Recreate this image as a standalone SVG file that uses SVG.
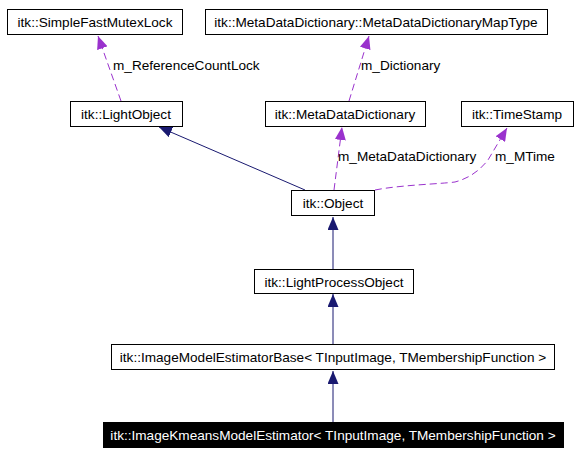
<svg xmlns="http://www.w3.org/2000/svg" width="584" height="455" viewBox="0 0 584 455">
<defs>
<style>
.box{fill:#fff;stroke:#000;stroke-width:1}
.dark{fill:#000;stroke:#000;stroke-width:1}
text{font-family:"Liberation Sans",Arial,sans-serif;font-size:13.6px;fill:#000}
.lbl{text-anchor:middle}
.wt{fill:#fff}
.inh{stroke:#191970;stroke-width:1;fill:none}
.use{stroke:#9a32cd;stroke-width:1;fill:none;stroke-dasharray:7,4}
</style>
<marker id="ai" markerWidth="13" markerHeight="11" refX="13" refY="5.5" orient="auto" markerUnits="userSpaceOnUse">
<path d="M0,0 L13,5.5 L0,11 Z" fill="#191970"/>
</marker>
<marker id="au" markerWidth="13" markerHeight="11" refX="13" refY="5.5" orient="auto" markerUnits="userSpaceOnUse">
<path d="M0,0 L13,5.5 L0,11 Z" fill="#9a32cd"/>
</marker>
</defs>
<rect width="584" height="455" fill="#fff"/>
<g id="connectors">
<path class="use" d="M121,101 L98,36" marker-end="url(#au)"/>
<text x="113" y="70">m_ReferenceCountLock</text>
<path class="use" d="M349,101 L369,36" marker-end="url(#au)"/>
<text x="361" y="70">m_Dictionary</text>
<path class="use" d="M334,190 L342,127" marker-end="url(#au)"/>
<text x="338" y="161">m_MetaDataDictionary</text>
<path class="use" d="M375,190 C400,185 440,184 455,182 C470,178 480,170 488,160 L507,128" marker-end="url(#au)"/>
<text x="495" y="161">m_MTime</text>
<path class="inh" d="M305,190 L159,127" marker-end="url(#ai)"/>
<path class="inh" d="M333,269 L333,217" marker-end="url(#ai)"/>
<path class="inh" d="M333,344 L333,294" marker-end="url(#ai)"/>
<path class="inh" d="M333,422 L333,371" marker-end="url(#ai)"/>
</g>
<g id="n_mutex"><rect class="box" x="7.5" y="9.5" width="175" height="25"/><text class="lbl" x="95" y="26.5">itk::SimpleFastMutexLock</text></g>
<g id="n_maptype"><rect class="box" x="205.5" y="9.5" width="342" height="25"/><text class="lbl" x="376" y="26.5">itk::MetaDataDictionary::MetaDataDictionaryMapType</text></g>
<g id="n_lightobject"><rect class="box" x="70.5" y="101.5" width="112" height="25"/><text class="lbl" x="126" y="118.5">itk::LightObject</text></g>
<g id="n_metadict"><rect class="box" x="265.5" y="101.5" width="160" height="25"/><text class="lbl" x="345" y="118.5">itk::MetaDataDictionary</text></g>
<g id="n_timestamp"><rect class="box" x="461.5" y="101.5" width="112" height="25"/><text class="lbl" x="517" y="118.5">itk::TimeStamp</text></g>
<g id="n_object"><rect class="box" x="291.5" y="190.5" width="83" height="25"/><text class="lbl" x="333" y="207.5">itk::Object</text></g>
<g id="n_lpo"><rect class="box" x="254.5" y="269.5" width="159" height="24"/><text class="lbl" x="334" y="286.5">itk::LightProcessObject</text></g>
<g id="n_base"><rect class="box" x="111.5" y="344.5" width="443" height="25"/><text class="lbl" x="333" y="361.5">itk::ImageModelEstimatorBase&lt; TInputImage, TMembershipFunction &gt;</text></g>
<g id="n_kmeans"><rect class="dark" x="103.5" y="422.5" width="460" height="25"/><text class="lbl wt" x="333" y="439.5">itk::ImageKmeansModelEstimator&lt; TInputImage, TMembershipFunction &gt;</text></g>
</svg>
